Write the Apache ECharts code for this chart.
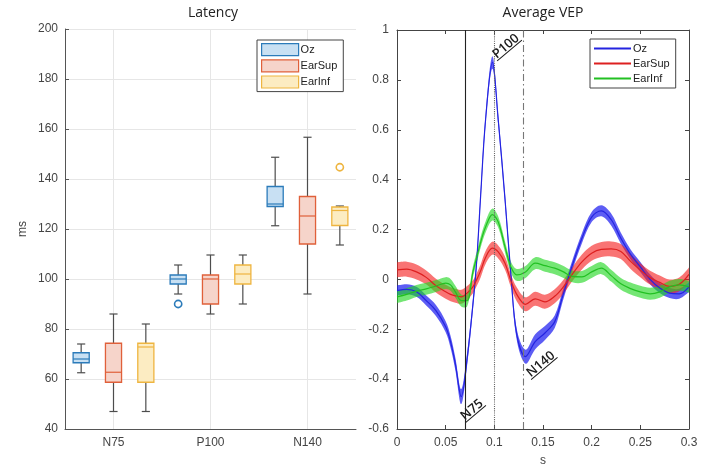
<!DOCTYPE html>
<html>
<head>
<meta charset="utf-8">
<script src="https://cdn.jsdelivr.net/npm/echarts@6/dist/echarts.min.js"></script>
<style>
  html, body { margin: 0; padding: 0; background: #fff; }
  #chart { width: 706px; height: 466px; }
</style>
</head>
<body>
<div id="chart"></div>
<script>
// ---------- Latency (ms): [peak index, min, q1, median, q3, max]
const peaks = ['N75', 'P100', 'N140'];
const latencyTicks = [40, 200, 20];

const ozBoxes = [
  [0, 62.5, 66.5, 68, 70.5, 74],
  [1, 94, 98, 100, 101.6, 105.6],
  [2, 121.3, 129, 130, 137, 148.7]
];
const earSupBoxes = [
  [0, 47, 58.7, 62.7, 74.3, 86],
  [1, 86, 90, 100, 101.6, 109.6],
  [2, 94, 114, 125.2, 133, 156.7]
];
const earInfBoxes = [
  [0, 47, 58.7, 72.8, 74.3, 82],
  [1, 90, 98, 102, 105.6, 109.6],
  [2, 113.6, 121.4, 127.4, 128.8, 129.2]
];
const ozOutliers = [[1, 90]];
const earSupOutliers = [];
const earInfOutliers = [[2, 144.7]];

// ---------- Average VEP: time (s), means and half band widths
const vepTime = [0, 0.01, 0.02, 0.03, 0.04, 0.05, 0.055, 0.06, 0.066, 0.072,
  0.078, 0.082, 0.086, 0.091, 0.098, 0.104, 0.111, 0.117, 0.123, 0.132,
  0.142, 0.152, 0.162, 0.17, 0.18, 0.19, 0.2, 0.21, 0.22, 0.23,
  0.24, 0.25, 0.26, 0.27, 0.28, 0.29, 0.3];
const ozMean = [-0.045, -0.04, -0.05, -0.085, -0.125, -0.19, -0.25, -0.34, -0.47, -0.32,
  -0.1, 0.08, 0.34, 0.64, 0.87, 0.64, 0.32, 0.02, -0.22, -0.31,
  -0.25, -0.215, -0.17, -0.07, 0.055, 0.165, 0.25, 0.275, 0.24, 0.165,
  0.1, 0.05, 0.0, -0.035, -0.055, -0.058, -0.03];
const earSupMean = [0.038, 0.041, 0.03, 0.008, -0.025, -0.05, -0.06, -0.066, -0.07, -0.055,
  -0.03, 0.0, 0.035, 0.088, 0.125, 0.11, 0.065, -0.005, -0.06, -0.1,
  -0.078, -0.09, -0.068, -0.035, 0.02, 0.07, 0.105, 0.12, 0.122, 0.112,
  0.072, 0.037, 0.007, -0.012, -0.028, -0.02, 0.02];
const earInfMean = [-0.07, -0.06, -0.047, -0.038, -0.027, -0.015, -0.022, -0.05, -0.085, -0.085,
  0.03, 0.09, 0.15, 0.21, 0.26, 0.23, 0.13, 0.05, 0.018, 0.03,
  0.065, 0.055, 0.045, 0.032, 0.012, 0.01, 0.03, 0.045, 0.015, -0.018,
  -0.037, -0.05, -0.058, -0.05, -0.03, -0.022, -0.03];
const ozSem = [0.02, 0.02, 0.02, 0.02, 0.022, 0.022, 0.024, 0.025, 0.03, 0.025,
  0.02, 0.02, 0.02, 0.02, 0.025, 0.02, 0.02, 0.02, 0.022, 0.028,
  0.03, 0.028, 0.025, 0.022, 0.02, 0.02, 0.02, 0.022, 0.024, 0.022,
  0.02, 0.02, 0.02, 0.02, 0.02, 0.02, 0.02];
const earSupSem = [0.03, 0.03, 0.03, 0.028, 0.028, 0.028, 0.028, 0.028, 0.028, 0.028,
  0.026, 0.026, 0.026, 0.026, 0.026, 0.026, 0.026, 0.026, 0.028, 0.028,
  0.028, 0.028, 0.028, 0.028, 0.028, 0.03, 0.03, 0.03, 0.03, 0.03,
  0.03, 0.028, 0.028, 0.028, 0.028, 0.028, 0.028];
const earInfSem = [0.025, 0.025, 0.024, 0.024, 0.024, 0.024, 0.024, 0.024, 0.024, 0.024,
  0.022, 0.022, 0.022, 0.022, 0.024, 0.022, 0.022, 0.022, 0.024, 0.024,
  0.024, 0.024, 0.024, 0.024, 0.024, 0.024, 0.024, 0.024, 0.024, 0.024,
  0.024, 0.024, 0.024, 0.024, 0.024, 0.024, 0.024];

// peak latency markers and label anchors (s, µV) -- anchor is the start of the underline
const peakLatency = [0.066, 0.098, 0.132];
const peakLabelAnchor = [[0.0701, -0.575], [0.1029, 0.876], [0.1378, -0.402]];

const channels = [
  { name: 'Oz', boxes: ozBoxes, outliers: ozOutliers, shift: -1 / 3,
    boxStroke: '#2b7bba', boxFill: '#c8e0f3',
    mean: ozMean, sem: ozSem, line: '#2424e0', band: 'rgba(30,30,240,0.72)' },
  { name: 'EarSup', boxes: earSupBoxes, outliers: earSupOutliers, shift: 0,
    boxStroke: '#e0603a', boxFill: '#f6d4ca',
    mean: earSupMean, sem: earSupSem, line: '#dd2020', band: 'rgba(245,30,30,0.62)' },
  { name: 'EarInf', boxes: earInfBoxes, outliers: earInfOutliers, shift: 1 / 3,
    boxStroke: '#eeb540', boxFill: '#fcecc2',
    mean: earInfMean, sem: earInfSem, line: '#22c022', band: 'rgba(30,215,30,0.62)' }
];

const SMOOTH = 0.35;
const labelFont = 'Liberation Sans, Arial, sans-serif';
const chart = echarts.init(document.getElementById('chart'));

function boxRenderer(ch) {
  return function (params, api) {
    const band = api.size([1, 0])[0];
    const cat = api.value(0);
    const cx = api.coord([cat, 0])[0] + band * ch.shift;
    const half = band * 0.083;
    const cap = band * 0.042;
    const y = [1, 2, 3, 4, 5].map(d => api.coord([cat, api.value(d)])[1]);
    const whisker = { stroke: '#4d4d4d', lineWidth: 1.2 };
    return {
      type: 'group',
      children: [
        { type: 'line', shape: { x1: cx, y1: y[0], x2: cx, y2: y[1] }, style: whisker },
        { type: 'line', shape: { x1: cx, y1: y[3], x2: cx, y2: y[4] }, style: whisker },
        { type: 'line', shape: { x1: cx - cap, y1: y[0], x2: cx + cap, y2: y[0] }, style: whisker },
        { type: 'line', shape: { x1: cx - cap, y1: y[4], x2: cx + cap, y2: y[4] }, style: whisker },
        { type: 'rect', shape: { x: cx - half, y: y[3], width: half * 2, height: y[1] - y[3] },
          style: { fill: ch.boxFill, stroke: ch.boxStroke, lineWidth: 1.3 } },
        { type: 'line', shape: { x1: cx - half, y1: y[2], x2: cx + half, y2: y[2] },
          style: { stroke: ch.boxStroke, lineWidth: 1.2 } }
      ]
    };
  };
}

function outlierRenderer(ch) {
  return function (params, api) {
    const band = api.size([1, 0])[0];
    const p = api.coord([api.value(0), api.value(1)]);
    return { type: 'circle', shape: { cx: p[0] + band * ch.shift, cy: p[1], r: 3.6 },
      style: { fill: 'none', stroke: ch.boxStroke, lineWidth: 1.6 } };
  };
}

// cubic segments through pixel points, same control-point rule as the line series smoothing
function curveSegments(pts) {
  const n = pts.length;
  const cps = pts.map((p, i) => {
    if (i === 0 || i === n - 1) return [p, p];
    const prev = pts[i - 1], next = pts[i + 1];
    const vx = next[0] - prev[0], vy = next[1] - prev[1];
    const d0 = Math.hypot(p[0] - prev[0], p[1] - prev[1]);
    const d1 = Math.hypot(next[0] - p[0], next[1] - p[1]);
    const r = d1 / (d0 + d1);
    return [[p[0] - vx * SMOOTH * (1 - r), p[1] - vy * SMOOTH * (1 - r)],
            [p[0] + vx * SMOOTH * r, p[1] + vy * SMOOTH * r]];
  });
  let d = '';
  for (let i = 0; i < n - 1; i++) {
    const c1 = cps[i][1], c2 = cps[i + 1][0], q = pts[i + 1];
    d += ' C' + c1[0] + ',' + c1[1] + ' ' + c2[0] + ',' + c2[1] + ' ' + q[0] + ',' + q[1];
  }
  return d;
}

function bandRenderer(ch) {
  return function (params, api) {
    if (params.dataIndex !== 0) return null;
    const upper = vepTime.map((t, i) => api.coord([t, ch.mean[i] + ch.sem[i]]));
    const lower = vepTime.map((t, i) => api.coord([t, ch.mean[i] - ch.sem[i]])).reverse();
    const d = 'M' + upper[0][0] + ',' + upper[0][1] + curveSegments(upper) +
      ' L' + lower[0][0] + ',' + lower[0][1] + curveSegments(lower) + ' Z';
    return { type: 'path', shape: { pathData: d }, style: { fill: ch.band, stroke: 'none' } };
  };
}

const series = [];
channels.forEach(ch => {
  series.push({
    type: 'custom', name: ch.name, xAxisIndex: 0, yAxisIndex: 0,
    data: ch.boxes, encode: { x: 0, y: [1, 2, 3, 4, 5] },
    renderItem: boxRenderer(ch), z: 3
  });
  series.push({
    type: 'custom', name: ch.name + ' outliers', xAxisIndex: 0, yAxisIndex: 0,
    data: ch.outliers, encode: { x: 0, y: 1 },
    renderItem: outlierRenderer(ch), z: 4
  });
});

channels.forEach(ch => {
  series.push({
    type: 'custom', name: ch.name + ' band', xAxisIndex: 1, yAxisIndex: 1,
    data: vepTime.map((t, i) => [t, ch.mean[i]]), encode: { x: 0, y: 1 },
    renderItem: bandRenderer(ch), silent: true, z: 2
  });
});
channels.forEach((ch, k) => {
  const s = {
    type: 'line', name: ch.name, xAxisIndex: 1, yAxisIndex: 1,
    data: vepTime.map((t, i) => [t, ch.mean[i]]), smooth: SMOOTH,
    symbol: 'none', lineStyle: { color: ch.line, width: 1.2 }, itemStyle: { color: ch.line }, z: 3
  };
  if (k === 0) {
    const types = ['solid', 'dotted', [7, 3, 1.5, 3]];
    const colors = ['#222', '#666', '#777'];
    s.markLine = {
      silent: true, symbol: 'none', label: { show: false },
      data: peakLatency.map((x, i) => ({ xAxis: x, lineStyle: { type: types[i], color: colors[i], width: 1.1 } }))
    };
  }
  series.push(s);
});

const tickLabel = { color: '#444', fontSize: 12, fontFamily: labelFont };
const frameLine = { show: true, onZero: false, lineStyle: { color: '#444' } };
const frameTick = { show: true, inside: true, length: 4, lineStyle: { color: '#444' } };

const option = {
  animation: false,
  backgroundColor: '#fff',
  grid: [
    { left: 65, top: 29, width: 291, height: 400, outerBoundsMode: 'none' },
    { left: 397, top: 30, width: 292, height: 399, outerBoundsMode: 'none' }
  ],
  xAxis: [
    {
      type: 'category', gridIndex: 0, data: peaks, boundaryGap: true,
      axisLine: { show: true, onZero: false, lineStyle: { color: '#555' } },
      axisTick: { alignWithLabel: true, inside: true, length: 4, lineStyle: { color: '#555' } },
      splitLine: { show: true, alignWithLabel: true, lineStyle: { color: '#e6e6e6' } },
      axisLabel: Object.assign({ margin: 8 }, tickLabel)
    },
    {
      type: 'value', gridIndex: 1, position: 'bottom', min: 0, max: 0.3, interval: 0.05,
      axisLine: frameLine, axisTick: frameTick,
      splitLine: { show: false },
      axisLabel: Object.assign({ margin: 8 }, tickLabel),
      name: 's', nameLocation: 'middle', nameGap: 26,
      nameTextStyle: { color: '#444', fontSize: 12, fontFamily: labelFont }
    },
    {
      type: 'value', gridIndex: 1, position: 'top', min: 0, max: 0.3, interval: 0.05,
      axisLine: frameLine, axisTick: frameTick,
      splitLine: { show: false }, axisLabel: { show: false }
    }
  ],
  yAxis: [
    {
      type: 'value', gridIndex: 0, min: latencyTicks[0], max: latencyTicks[1], interval: latencyTicks[2],
      axisLine: { show: true, onZero: false, lineStyle: { color: '#555' } },
      axisTick: { show: true, inside: true, length: 4, lineStyle: { color: '#555' } },
      splitLine: { show: true, lineStyle: { color: '#e6e6e6' } },
      axisLabel: Object.assign({ margin: 7 }, tickLabel),
      name: 'ms', nameLocation: 'middle', nameGap: 36, nameRotate: 90,
      nameTextStyle: { color: '#444', fontSize: 12, fontFamily: labelFont }
    },
    {
      type: 'value', gridIndex: 1, position: 'left', min: -0.6, max: 1, interval: 0.2,
      axisLine: frameLine, axisTick: frameTick,
      splitLine: { show: false },
      axisLabel: Object.assign({ margin: 8 }, tickLabel)
    },
    {
      type: 'value', gridIndex: 1, position: 'right', min: -0.6, max: 1, interval: 0.2,
      axisLine: frameLine, axisTick: frameTick,
      splitLine: { show: false }, axisLabel: { show: false }
    }
  ],
  legend: [
    {
      orient: 'vertical', left: 257, top: 40, itemWidth: 37, itemHeight: 12, itemGap: 3,
      padding: [3, 6, 3, 4], borderColor: '#444', borderWidth: 1, backgroundColor: '#fff',
      selectedMode: false,
      textStyle: { color: '#222', fontSize: 11, fontFamily: labelFont, padding: [0, 0, 0, -3] },
      data: channels.map(ch => ({
        name: ch.name, icon: 'rect',
        itemStyle: { color: ch.boxFill, borderColor: ch.boxStroke, borderWidth: 1.2 }
      }))
    },
    {
      orient: 'vertical', left: 590, top: 39, itemWidth: 37, itemHeight: 2, itemGap: 4,
      padding: [4, 6, 4, 4], borderColor: '#444', borderWidth: 1, backgroundColor: '#fff',
      selectedMode: false,
      textStyle: { color: '#222', fontSize: 11, fontFamily: labelFont, padding: [0, 0, 0, -3] },
      data: channels.map(ch => ({
        name: ch.name, icon: 'rect',
        itemStyle: { color: ch.line, borderWidth: 0 }
      }))
    }
  ],
  graphic: [
    { type: 'text', x: 213, y: 6, style: { text: 'Latency', font: '14px "Open Sans", sans-serif', fill: '#222', align: 'center' } },
    { type: 'text', x: 543, y: 6, style: { text: 'Average VEP', font: '14px "Open Sans", sans-serif', fill: '#222', align: 'center' } }
  ],
  series: series
};

chart.setOption(option);

// underlined, rotated peak labels on the VEP panel
const annFont = '600 13px "Open Sans", sans-serif';
const measure = document.createElement('canvas').getContext('2d');
measure.font = annFont;
const annotations = peaks.map((name, i) => {
  const p = chart.convertToPixel({ xAxisIndex: 1, yAxisIndex: 1 }, peakLabelAnchor[i]);
  const w = measure.measureText(name).width;
  return {
    type: 'group', x: p[0], y: p[1], rotation: 40 * Math.PI / 180,
    children: [
      { type: 'text', x: 1, y: 1, style: { text: name, font: annFont, fill: '#1a1a1a', verticalAlign: 'bottom' } },
      { type: 'line', shape: { x1: 0, y1: 0, x2: w + 2, y2: 0 }, style: { stroke: '#1a1a1a', lineWidth: 1 } }
    ]
  };
});
chart.setOption({ graphic: option.graphic.concat(annotations) });
</script>
</body>
</html>
